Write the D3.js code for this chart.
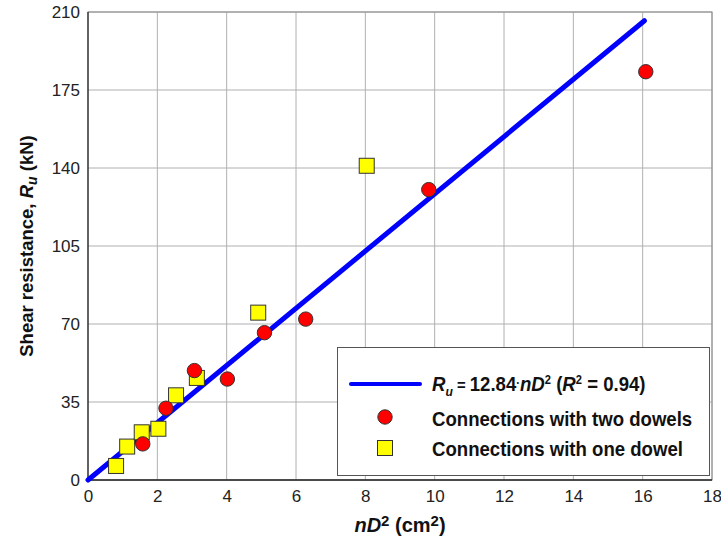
<!DOCTYPE html>
<html>
<head>
<meta charset="utf-8">
<script src="https://cdn.jsdelivr.net/npm/d3@7"></script>
<style>
  html, body { margin: 0; padding: 0; background: #fff; }
  svg { display: block; font-family: "Liberation Sans", Arial, sans-serif; }
</style>
</head>
<body>
<svg id="chart" width="721" height="542"></svg>
<script>
// Shear resistance vs nD² for dowel connections
const twoDowelX = [1.58, 2.25, 3.07, 4.02, 5.09, 6.28, 9.83, 16.09];
const twoDowelY = [16.2, 32.2, 49.1, 45.3, 66.1, 72.2, 130.3, 183.2];
const oneDowelX = [0.81, 1.13, 1.55, 2.03, 2.54, 3.14, 4.91, 8.04];
const oneDowelY = [6.3, 15.0, 21.4, 23.0, 38.0, 45.8, 75.1, 141.0];
const fitSlope = 12.84;
const fitR2 = 0.94;
const fitRange = [0, 16.05];
const xTicks = [0, 2, 4, 6, 8, 10, 12, 14, 16, 18];
const yTicks = [0, 35, 70, 105, 140, 175, 210];

const svg = d3.select("#chart");
const plotL = 88, plotR = 712, plotT = 12, plotB = 480;

const x = d3.scaleLinear().domain([0, 18]).range([plotL, plotR]);
const y = d3.scaleLinear().domain([0, 210]).range([plotB, plotT]);

// grid
const grid = svg.append("g");
grid.selectAll("line.vx").data(xTicks.slice(1)).join("line")
  .attr("x1", d => x(d)).attr("x2", d => x(d))
  .attr("y1", plotT).attr("y2", plotB)
  .attr("stroke", "#b0b0b0").attr("stroke-width", 1);
grid.selectAll("line.hy").data(yTicks.slice(1)).join("line")
  .attr("x1", plotL).attr("x2", plotR)
  .attr("y1", d => y(d)).attr("y2", d => y(d))
  .attr("stroke", "#b0b0b0").attr("stroke-width", 1);

// plot frame
svg.append("rect").attr("x", plotL).attr("y", plotT)
  .attr("width", plotR - plotL).attr("height", plotB - plotT)
  .attr("fill", "none").attr("stroke", "#8a8a8a").attr("stroke-width", 1);
svg.append("line").attr("x1", plotL).attr("x2", plotL).attr("y1", plotT).attr("y2", plotB)
  .attr("stroke", "#222").attr("stroke-width", 1.2);
svg.append("line").attr("x1", plotL).attr("x2", plotR).attr("y1", plotB).attr("y2", plotB)
  .attr("stroke", "#222").attr("stroke-width", 1.5);

// axes tick labels
const xAxis = d3.axisBottom(x).tickValues(xTicks).tickSize(0).tickPadding(10);
const gx = svg.append("g").attr("transform", `translate(0,${plotB})`).call(xAxis);
gx.select(".domain").remove();
gx.selectAll("text").attr("font-size", 17).attr("fill", "#222")
  .attr("font-family", "Liberation Sans, Arial, sans-serif");

const yAxis = d3.axisLeft(y).tickValues(yTicks).tickSize(0).tickPadding(8);
const gy = svg.append("g").attr("transform", `translate(${plotL},0)`).call(yAxis);
gy.select(".domain").remove();
gy.selectAll("text").attr("font-size", 17).attr("fill", "#222")
  .attr("font-family", "Liberation Sans, Arial, sans-serif");

// axis titles
const xt = svg.append("text").attr("x", (plotL + plotR) / 2).attr("y", 532)
  .attr("text-anchor", "middle").attr("font-size", 20).attr("font-weight", "bold").attr("fill", "#111");
xt.append("tspan").attr("font-style", "italic").text("nD");
xt.append("tspan").attr("font-size", 15).attr("dy", -6).text("2");
xt.append("tspan").attr("dy", 6).text(" (cm");
xt.append("tspan").attr("font-size", 15).attr("dy", -6).text("2");
xt.append("tspan").attr("dy", 6).text(")");

const yt = svg.append("text")
  .attr("transform", `translate(33,${(plotT + plotB) / 2}) rotate(-90)`)
  .attr("text-anchor", "middle").attr("font-size", 18.5).attr("font-weight", "bold").attr("fill", "#111");
yt.append("tspan").text("Shear resistance, ");
yt.append("tspan").attr("font-style", "italic").text("R");
yt.append("tspan").attr("font-style", "italic").attr("font-size", 14).attr("dy", 4).text("u");
yt.append("tspan").attr("dy", -4).text(" (kN)");

// fitted line
svg.append("line")
  .attr("x1", x(fitRange[0])).attr("y1", y(fitSlope * fitRange[0]))
  .attr("x2", x(fitRange[1])).attr("y2", y(fitSlope * fitRange[1]))
  .attr("stroke", "#0000ff").attr("stroke-width", 5).attr("stroke-linecap", "round");

// markers
const ones = oneDowelX.map((v, i) => ({ x: v, y: oneDowelY[i] }));
const twos = twoDowelX.map((v, i) => ({ x: v, y: twoDowelY[i] }));
const sq = 15;
svg.append("g").selectAll("rect").data(ones).join("rect")
  .attr("x", d => x(d.x) - sq / 2).attr("y", d => y(d.y) - sq / 2)
  .attr("width", sq).attr("height", sq)
  .attr("fill", "#ffff00").attr("stroke", "#333").attr("stroke-width", 1);
svg.append("g").selectAll("circle").data(twos).join("circle")
  .attr("cx", d => x(d.x)).attr("cy", d => y(d.y)).attr("r", 7.2)
  .attr("fill", "#ff0000").attr("stroke", "#333").attr("stroke-width", 1);

// legend
const lg = svg.append("g");
lg.append("rect").attr("x", 337.5).attr("y", 347.5).attr("width", 372).attr("height", 128)
  .attr("fill", "#fff").attr("stroke", "#555").attr("stroke-width", 1);
lg.append("line").attr("x1", 351).attr("x2", 420).attr("y1", 384).attr("y2", 384)
  .attr("stroke", "#0000ff").attr("stroke-width", 4).attr("stroke-linecap", "round");

// legend labels use a slightly condensed bold face
const legendText = (yBase) => lg.append("text")
  .attr("transform", `translate(432,${yBase}) scale(0.93,1)`)
  .attr("font-size", 20).attr("font-weight", "bold").attr("fill", "#111");

const t1 = legendText(391);
t1.append("tspan").attr("font-style", "italic").text("R");
t1.append("tspan").attr("font-style", "italic").attr("font-size", 13).attr("dy", 5).text("u");
t1.append("tspan").attr("dy", -5).attr("font-size", 16).text(" =  ");
t1.append("tspan").text(fitSlope.toFixed(2));
t1.append("tspan").attr("font-size", 12).attr("dy", -4).text("·");
t1.append("tspan").attr("dy", 4).attr("font-style", "italic").text("nD");
t1.append("tspan").attr("font-size", 12).attr("dy", -7).text("2");
t1.append("tspan").attr("dy", 7).text(" (");
t1.append("tspan").attr("font-style", "italic").text("R");
t1.append("tspan").attr("font-size", 12).attr("dy", -7).text("2");
t1.append("tspan").attr("dy", 7).text(" = " + fitR2.toFixed(2) + ")");

lg.append("circle").attr("cx", 385).attr("cy", 417).attr("r", 7.2)
  .attr("fill", "#ff0000").attr("stroke", "#333").attr("stroke-width", 1);
legendText(426).text("Connections with two dowels");
lg.append("rect").attr("x", 377.5).attr("y", 440.5).attr("width", 15).attr("height", 15)
  .attr("fill", "#ffff00").attr("stroke", "#333").attr("stroke-width", 1);
legendText(456).text("Connections with one dowel");
</script>
</body>
</html>
